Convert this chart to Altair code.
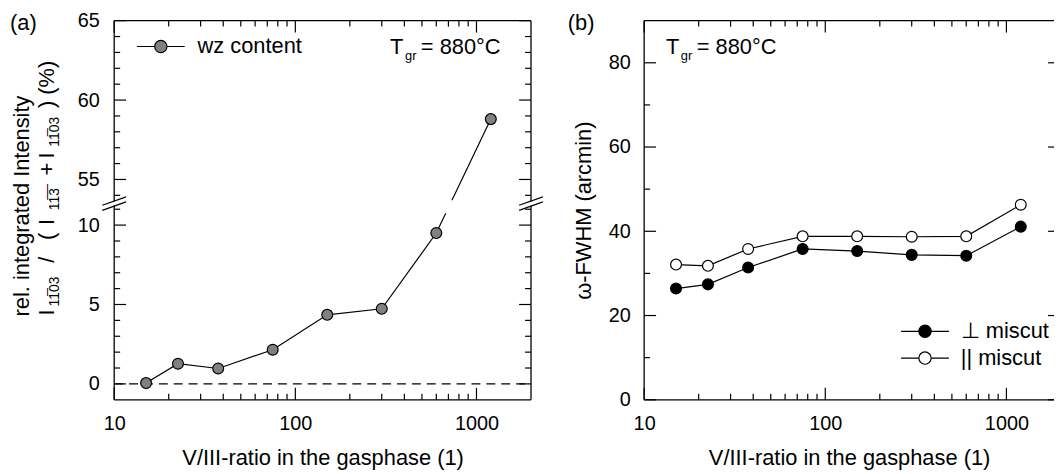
import math
import altair as alt
import pandas as pd

# ---------------- data ----------------
ratio = [15, 22.5, 37.5, 75, 150, 300, 600, 1200]
wz_content = [0.05, 1.27, 0.97, 2.15, 4.35, 4.73, 9.5, 58.8]
fwhm_perp = [26.4, 27.4, 31.4, 35.8, 35.3, 34.4, 34.2, 41.1]
fwhm_par = [32.1, 31.8, 35.8, 38.8, 38.8, 38.7, 38.8, 46.3]

series_a = ["wz content"]
series_b = ["\u22a5 miscut", "|| miscut"]

x_major = [10, 100, 1000]
x_minor = [20, 30, 40, 50, 60, 70, 80, 90, 200, 300, 400, 500, 600, 700, 800, 900]
ya_major = [0, 5, 10, 55, 60, 65]
ya_minor = [1, 2, 3, 4, 6, 7, 8, 9, 11, 54, 56, 57, 58, 59, 61, 62, 63, 64]
yb_major = [0, 20, 40, 60, 80]
yb_minor = [10, 30, 50, 70]

# ---------------- layout / style ----------------
FONT = "Liberation Sans"
WA, HA = 420, 382
WB, HB = 413, 382
GAP = 114               # plot-to-plot distance between the panels
MAJOR, MINOR = 12, 6
LW = 1.2
FRAME_W = 1.3
MSIZE = 120

SHIFT = 42.125          # broken axis: upper part (>= ~53.7) moved down
def fold(v):
    return v if v < 30 else v - SHIFT

XA_DOMAIN = [10, 2000]
XB_DOMAIN = [10, 10 ** (1 + WB / WA * math.log10(XA_DOMAIN[1] / XA_DOMAIN[0]))]
YA_DOMAIN = [-1, 65 - SHIFT]
YB_DOMAIN = [0, 90]

xs_a = alt.Scale(type="log", domain=XA_DOMAIN, nice=False)
ys_a = alt.Scale(domain=YA_DOMAIN, nice=False, zero=False)
xs_b = alt.Scale(type="log", domain=XB_DOMAIN, nice=False)
ys_b = alt.Scale(domain=YB_DOMAIN, nice=False, zero=False)

one = pd.DataFrame({"k": [0]})

SYM = ("M-4.4,0L-1.13,0M1.13,0L4.4,0"
       "M-1.13,0A1.13,1.13,0,1,1,1.13,0A1.13,1.13,0,1,1,-1.13,0Z")

x_title = "V/III-ratio in the gasphase (1)"

ax_xa = alt.Axis(values=x_major, format="d", labelFlush=False, title=x_title,
                 labelPadding=14, titlePadding=14, ticks=False, domain=False, grid=False)
ax_ya = alt.Axis(values=[fold(v) for v in ya_major],
                 labelExpr="datum.value > 11.7 ? format(datum.value + 42.125, 'd') : format(datum.value, 'd')",
                 title=None, labelPadding=15, ticks=False, domain=False, grid=False)
ax_xb = alt.Axis(values=x_major, format="d", labelFlush=False, title=x_title,
                 labelPadding=14, titlePadding=14, ticks=False, domain=False, grid=False)
ax_yb = alt.Axis(values=yb_major, format="d", title="\u03c9-FWHM (arcmin)",
                 labelPadding=14, titlePadding=13, ticks=False, domain=False, grid=False)


def X(field, panel):
    return alt.X(field, scale=xs_a if panel == "a" else xs_b,
                 axis=ax_xa if panel == "a" else ax_xb)


def Y(field, panel):
    return alt.Y(field, scale=ys_a if panel == "a" else ys_b,
                 axis=ax_ya if panel == "a" else ax_yb)


def frame(x0, y0, x1, y1):
    return alt.Chart(one).mark_rule(color="black", strokeWidth=FRAME_W).encode(
        x=alt.value(x0), y=alt.value(y0), x2=alt.value(x1), y2=alt.value(y1))


def ticks(vals, chan, panel, side, length, W, H):
    df = pd.DataFrame({"v": vals})
    base = alt.Chart(df).mark_rule(color="black", strokeWidth=LW)
    if chan == "y":
        ey = Y("v:Q", panel)
        if side == "left":
            return base.encode(y=ey, x=alt.value(0), x2=alt.value(length))
        return base.encode(y=ey, x=alt.value(W - length), x2=alt.value(W))
    ex = X("v:Q", panel)
    if side == "bottom":
        return base.encode(x=ex, y=alt.value(H - length), y2=alt.value(H))
    return base.encode(x=ex, y=alt.value(0), y2=alt.value(length))


def label(text, x, y, size=22, angle=0, baseline="alphabetic", align="left"):
    return alt.Chart(pd.DataFrame({"t": [text]})).mark_text(
        font=FONT, fontSize=size, color="black", angle=angle,
        baseline=baseline, align=align).encode(
        text="t:N", x=alt.value(x), y=alt.value(y))


def tgr(x, ybase):
    return [label("T", x, ybase), label("gr", x + 15, ybase + 6, size=13),
            label("= 880\u00b0C", x + 31, ybase)]


OB = "\u0305"
SUB_1103 = "11" + OB + "03"
SUB_113 = "11" + OB + "3" + OB

# rotated second title line, built from pieces: (text, start y, is subscript)
ytitle2 = [("I", 297, False), (SUB_1103, 288, True), ("/", 244, False), ("(", 221, False),
           ("I", 206, False), (SUB_113, 191, True), ("+", 156, False), ("I", 139, False),
           (SUB_1103, 127, True), (") (%)", 88, False)]

# ---------------- panel (a) ----------------
df_a = pd.DataFrame({"ratio": ratio, "y": [fold(v) for v in wz_content],
                     "series": series_a[0]})

legend_a = alt.Legend(title=None, orient="none", legendX=36, legendY=15,
                      symbolType=SYM, symbolSize=MSIZE, symbolStrokeColor="black",
                      symbolStrokeWidth=LW, symbolOpacity=1, labelFont=FONT,
                      labelFontSize=22, labelColor="black", labelOffset=26,
                      padding=0, rowPadding=5)

zero_df = pd.DataFrame({"y0": [0]})
gap_df = pd.DataFrame({"x0": [450], "x1": [1000], "y0": [10.75], "y1": [11.56]})

layers_a = [
    frame(0, 0, 0, HA), frame(WA, 0, WA, HA), frame(0, 0, WA, 0), frame(0, HA, WA, HA),
    ticks(x_major, "x", "a", "bottom", MAJOR, WA, HA),
    ticks(x_minor, "x", "a", "bottom", MINOR, WA, HA),
    ticks(x_major, "x", "a", "top", MAJOR, WA, HA),
    ticks(x_minor, "x", "a", "top", MINOR, WA, HA),
    ticks([fold(v) for v in ya_major], "y", "a", "left", MAJOR, WA, HA),
    ticks([fold(v) for v in ya_minor], "y", "a", "left", MINOR, WA, HA),
    ticks([fold(v) for v in ya_major], "y", "a", "right", MAJOR, WA, HA),
    ticks([fold(v) for v in ya_minor], "y", "a", "right", MINOR, WA, HA),
    alt.Chart(zero_df).mark_rule(color="black", strokeWidth=LW, strokeDash=[9, 6]).encode(
        y=Y("y0:Q", "a"), x=alt.value(0), x2=alt.value(WA)),
    alt.Chart(df_a).mark_line(color="black", strokeWidth=LW).encode(
        x=X("ratio:Q", "a"), y=Y("y:Q", "a")),
    # gap of the line at the axis break
    alt.Chart(gap_df).mark_rect(color="white").encode(
        x=X("x0:Q", "a"), x2="x1:Q", y=Y("y0:Q", "a"), y2="y1:Q"),
    alt.Chart(df_a).mark_point(filled=True, size=MSIZE, shape="circle", stroke="black",
                               strokeWidth=LW, opacity=1).encode(
        x=X("ratio:Q", "a"), y=Y("y:Q", "a"),
        fill=alt.Fill("series:N", scale=alt.Scale(domain=series_a, range=["#808080"]),
                      legend=legend_a)),
]
# break marks on both vertical axes
brk_white = pd.DataFrame({"y0": [11.23], "y1": [11.49]})
brk_lines = pd.DataFrame({"y0": [10.93, 11.25], "y1": [11.46, 11.78]})
for xe in (0, WA):
    layers_a.append(alt.Chart(brk_white).mark_rect(color="white").encode(
        x=alt.value(xe - 4), x2=alt.value(xe + 4), y=Y("y0:Q", "a"), y2="y1:Q"))
    layers_a.append(alt.Chart(brk_lines).mark_rule(color="black", strokeWidth=LW).encode(
        x=alt.value(xe - 12), x2=alt.value(xe + 12), y=Y("y0:Q", "a"), y2="y1:Q"))

layers_a += [
    label("(a)", -105, 2, baseline="middle"),
    label("rel. integrated Intensity", -93, 298, angle=270, baseline="middle", align="left"),
]
for txt, ys, sub in ytitle2:
    layers_a.append(label(txt, -60 if sub else -68, ys, size=14 if sub else 22,
                          angle=270, baseline="middle", align="left"))
layers_a += tgr(278, 34)

panel_a = alt.layer(*layers_a).properties(width=WA, height=HA)

# ---------------- panel (b) ----------------
df_b = pd.DataFrame({
    "ratio": ratio + ratio,
    "fwhm": fwhm_perp + fwhm_par,
    "series": [series_b[0]] * len(ratio) + [series_b[1]] * len(ratio),
})

legend_b = alt.Legend(title=None, orient="none", legendX=272, legendY=302,
                      symbolType=SYM, symbolSize=MSIZE, symbolStrokeColor="black",
                      symbolStrokeWidth=LW, symbolOpacity=1, labelFont=FONT,
                      labelFontSize=22, labelColor="black", labelOffset=25,
                      padding=0, rowPadding=5)

layers_b = [
    frame(0, 0, 0, HB), frame(0, 0, WB, 0), frame(0, HB, WB, HB),
    ticks(x_major, "x", "b", "bottom", MAJOR, WB, HB),
    ticks(x_minor, "x", "b", "bottom", MINOR, WB, HB),
    ticks(x_major, "x", "b", "top", MAJOR, WB, HB),
    ticks(x_minor, "x", "b", "top", MINOR, WB, HB),
    ticks(yb_major, "y", "b", "left", MAJOR, WB, HB),
    ticks(yb_minor, "y", "b", "left", MINOR, WB, HB),
    ticks(yb_major, "y", "b", "right", MINOR, WB, HB),
    alt.Chart(df_b).mark_line(color="black", strokeWidth=LW).encode(
        x=X("ratio:Q", "b"), y=Y("fwhm:Q", "b"), detail="series:N"),
    alt.Chart(df_b).mark_point(filled=True, size=MSIZE, shape="circle", stroke="black",
                               strokeWidth=LW, opacity=1).encode(
        x=X("ratio:Q", "b"), y=Y("fwhm:Q", "b"),
        fill=alt.Fill("series:N", scale=alt.Scale(domain=series_b, range=["black", "white"]),
                      legend=legend_b)),
    label("(b)", -77, 2, baseline="middle"),
] + tgr(22, 34)

panel_b = alt.layer(*layers_b).properties(width=WB, height=HB)

chart = (
    alt.hconcat(panel_a, panel_b, spacing=GAP, bounds="flush")
    .resolve_scale(fill="independent", x="independent", y="independent")
    .resolve_legend(fill="independent")
    .properties(padding={"left": 2, "top": 1, "right": 0, "bottom": 0})
    .configure_view(strokeWidth=0)
    .configure_axis(labelFont=FONT, labelFontSize=20, labelColor="black",
                    titleFont=FONT, titleFontSize=22, titleFontWeight="normal",
                    titleColor="black")
)

chart.save("out.html", embed_options={"renderer": "svg", "actions": False})
